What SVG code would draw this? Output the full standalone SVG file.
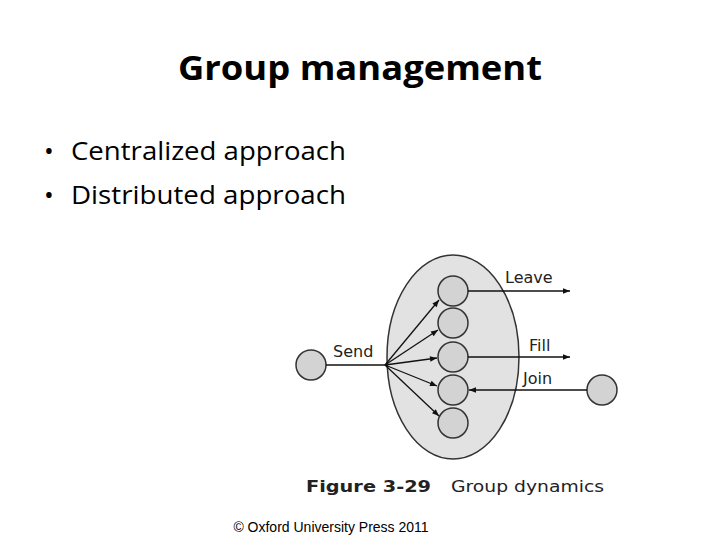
<svg xmlns="http://www.w3.org/2000/svg" width="720" height="540" viewBox="0 0 720 540">
<style>
.t{font-family:"Open Sans","Liberation Sans",sans-serif;fill:#000}
.f{font-family:"DejaVu Sans",sans-serif;fill:#222;font-size:16px}
.n{fill:#d3d3d3;stroke:#333;stroke-width:1.5}
.c{stroke:#111;stroke-width:1.3;fill:none}
</style>
<defs><marker id="a" viewBox="0 0 10 10" refX="10" refY="5" markerWidth="9" markerHeight="7" orient="auto" markerUnits="userSpaceOnUse"><path d="M0,1 L10,5 L0,9 z" fill="#111"/></marker></defs>
<rect width="720" height="540" fill="#fff"/>
<text class="t" x="360" y="80" font-size="34" font-weight="bold" text-anchor="middle" textLength="364" lengthAdjust="spacingAndGlyphs">Group management</text>
<text class="t" x="44" y="160" font-size="26">•</text>
<text class="t" x="71" y="160" font-size="26" textLength="275" lengthAdjust="spacingAndGlyphs">Centralized approach</text>
<text class="t" x="44" y="204" font-size="26">•</text>
<text class="t" x="71" y="204" font-size="26" textLength="275" lengthAdjust="spacingAndGlyphs">Distributed approach</text>
<g id="group"><ellipse cx="453" cy="357" rx="66" ry="102" fill="#e2e2e2" stroke="#333" stroke-width="1.5"/></g>
<g id="m1"><circle class="n" cx="453" cy="291" r="15"/></g>
<g id="m2"><circle class="n" cx="453" cy="323" r="15"/></g>
<g id="m3"><circle class="n" cx="453" cy="357" r="15"/></g>
<g id="m4"><circle class="n" cx="453" cy="390" r="15"/></g>
<g id="m5"><circle class="n" cx="453" cy="423" r="15"/></g>
<g id="sender"><circle class="n" cx="311" cy="365" r="15"/></g>
<g id="joiner"><circle class="n" cx="602" cy="390" r="15"/></g>
<g id="connectors">
<line class="c" x1="326" y1="365" x2="385" y2="365"/>
<line class="c" x1="385" y1="365" x2="439" y2="300" marker-end="url(#a)"/>
<line class="c" x1="385" y1="365" x2="438" y2="330" marker-end="url(#a)"/>
<line class="c" x1="385" y1="365" x2="437" y2="358" marker-end="url(#a)"/>
<line class="c" x1="385" y1="365" x2="437" y2="386" marker-end="url(#a)"/>
<line class="c" x1="385" y1="365" x2="439" y2="416" marker-end="url(#a)"/>
<line class="c" x1="468" y1="291" x2="570" y2="291" marker-end="url(#a)"/>
<line class="c" x1="468" y1="357" x2="570" y2="357" marker-end="url(#a)"/>
<line class="c" x1="587" y1="390" x2="469" y2="390" marker-end="url(#a)"/>
</g>
<text class="f" x="333" y="357">Send</text>
<text class="f" x="505" y="283">Leave</text>
<text class="f" x="529" y="351">Fill</text>
<text class="f" x="523" y="384">Join</text>
<text class="f" x="306" y="492" font-weight="bold" font-size="18" textLength="125" lengthAdjust="spacingAndGlyphs">Figure 3-29</text>
<text class="f" x="451" y="492" font-size="18" textLength="153" lengthAdjust="spacingAndGlyphs">Group dynamics</text>
<text x="331" y="532" font-family="Liberation Sans,Arial,sans-serif" font-size="14" text-anchor="middle">© Oxford University Press 2011</text>
</svg>
